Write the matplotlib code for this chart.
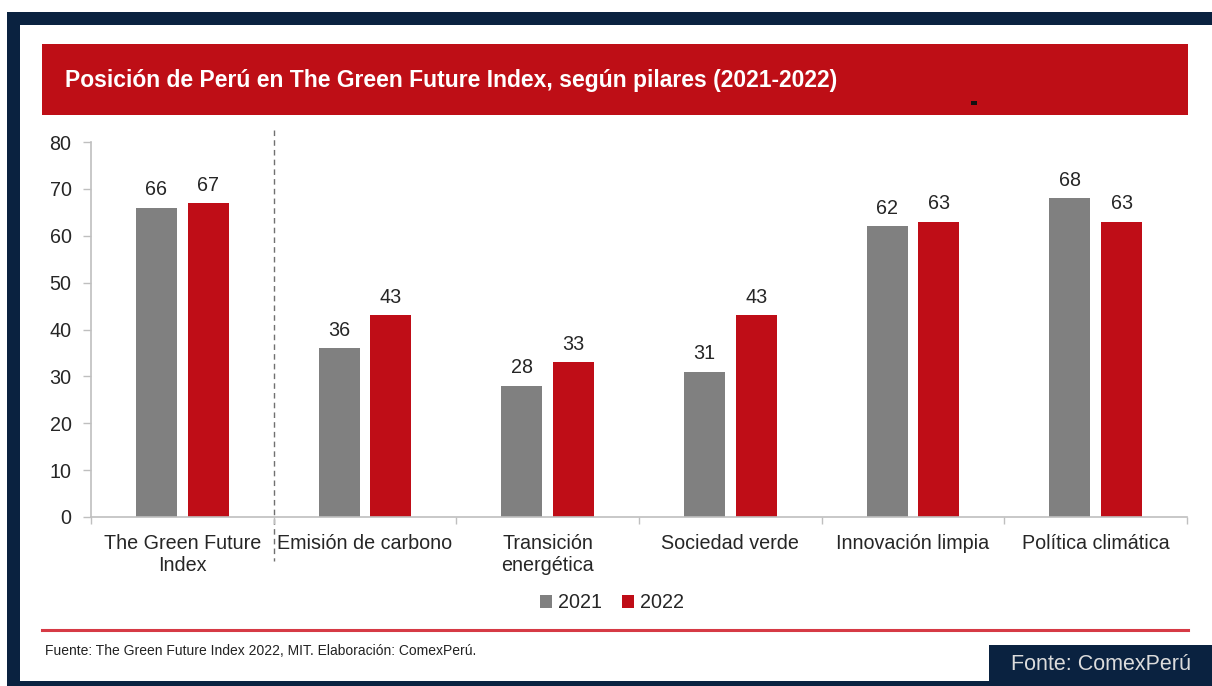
import matplotlib
matplotlib.use("Agg")
import matplotlib.pyplot as plt
from matplotlib.patches import Rectangle
from matplotlib import font_manager as fm

categories = ["The Green Future\nIndex", "Emisión de carbono", "Transición\nenergética",
              "Sociedad verde", "Innovación limpia", "Política climática"]
values_2021 = [66, 36, 28, 31, 62, 68]
values_2022 = [67, 43, 33, 43, 63, 63]
series_names = ["2021", "2022"]
yticks = [0, 10, 20, 30, 40, 50, 60, 70, 80]

title = "Posición de Perú en The Green Future Index, según pilares (2021-2022)"
source = "Fuente: The Green Future Index 2022, MIT. Elaboración: ComexPerú."
badge = "Fonte: ComexPerú"

GRAY = "#808080"
RED = "#BF0D17"
NAVY = "#0A2240"
AXC = "#BFBFBF"
TXT = "#262626"
FS = 14.2

W, H = 1212, 686
fig = plt.figure(figsize=(W / 100, H / 100), dpi=100)
plt.rcParams['font.family'] = ['Liberation Sans', 'DejaVu Sans']

def px_rect(x0, y0, x1, y1, color, z=0):
    fig.patches.append(Rectangle((x0 / W, 1 - y1 / H), (x1 - x0) / W, (y1 - y0) / H,
                                 transform=fig.transFigure, facecolor=color,
                                 edgecolor='none', zorder=z))

# navy frame
px_rect(7, 12, W, 25, NAVY)
px_rect(7, 12, 20, H, NAVY)
px_rect(7, 681, W, H, NAVY)
px_rect(989, 645, W, H, NAVY)
# title band
px_rect(42, 44, 1188, 115, "#BE0E16")
px_rect(971, 101, 977, 105, "#111111", z=1)
fig.text(65 / W, 1 - 81 / H, title, color="white", fontsize=16.5, fontweight="bold",
         va="center", ha="left")
# bottom red line
fig.lines.append(plt.Line2D([42 / W, 1188 / W], [1 - 630 / H, 1 - 630 / H],
                            transform=fig.transFigure, color="#D63A45", lw=2.2))
fig.text(45 / W, 1 - 651 / H, source, fontsize=10, color="#222222", va="center", ha="left")

names = {f.name for f in fm.fontManager.ttflist}
if 'Liberation Sans Narrow' in names:
    fig.text(1101 / W, 1 - 665 / H, badge, fontsize=18, color="#DCDCDC",
             family=['Liberation Sans Narrow', 'DejaVu Sans'], va="center", ha="center")
else:
    fig.text(1101 / W, 1 - 665 / H, badge, fontsize=15.5, color="#DCDCDC",
             va="center", ha="center")

# axes
left, right, top, bottom = 91, 1187, 142, 517
ax = fig.add_axes([left / W, 1 - bottom / H, (right - left) / W, (bottom - top) / H])
ax.set_facecolor("none")
x = list(range(len(categories)))
off, bw = 0.142, 0.225
b1 = ax.bar([i - off for i in x], values_2021, width=bw, color=GRAY, label=series_names[0], zorder=2)
b2 = ax.bar([i + off for i in x], values_2022, width=bw, color=RED, label=series_names[1], zorder=2)
for bars, vals in ((b1, values_2021), (b2, values_2022)):
    for rect, v in zip(bars, vals):
        ax.annotate(f"{v}", (rect.get_x() + rect.get_width() / 2, v), xytext=(0, 6),
                    textcoords="offset points", ha="center", va="bottom",
                    fontsize=FS, color=TXT)

ax.set_xlim(-0.5, len(categories) - 0.5)
ax.set_ylim(0, 80)
ax.set_yticks(yticks)
ax.set_xticks(x)
ax.set_xticklabels(categories, fontsize=FS, color=TXT, linespacing=1.22)
ax.set_xticks([i + 0.5 for i in range(-1, len(categories))], minor=True)
ax.tick_params(axis='x', which='major', length=0, pad=12)
ax.tick_params(axis='x', which='minor', length=5, color=AXC, width=1)
ax.tick_params(axis='y', length=6, color=AXC, width=1, pad=8, labelsize=FS, labelcolor=TXT)
for s in ("top", "right"):
    ax.spines[s].set_visible(False)
for s in ("left", "bottom"):
    ax.spines[s].set_color(AXC)
    ax.spines[s].set_linewidth(1.2)

# dashed separator
ax.plot([0.5, 0.5], [82.6, -9.3], color="#707070", lw=1, ls=(0, (4, 3)),
        clip_on=False, zorder=1)

fig.legend(handles=[b1, b2], labels=series_names, loc="center",
           bbox_to_anchor=(612 / W, 1 - 603 / H), ncol=2, frameon=False,
           fontsize=FS, handlelength=0.6, handleheight=0.6, handletextpad=0.3,
           columnspacing=1.0, labelcolor=TXT)

fig.savefig("out.png", dpi=100, facecolor="white")
